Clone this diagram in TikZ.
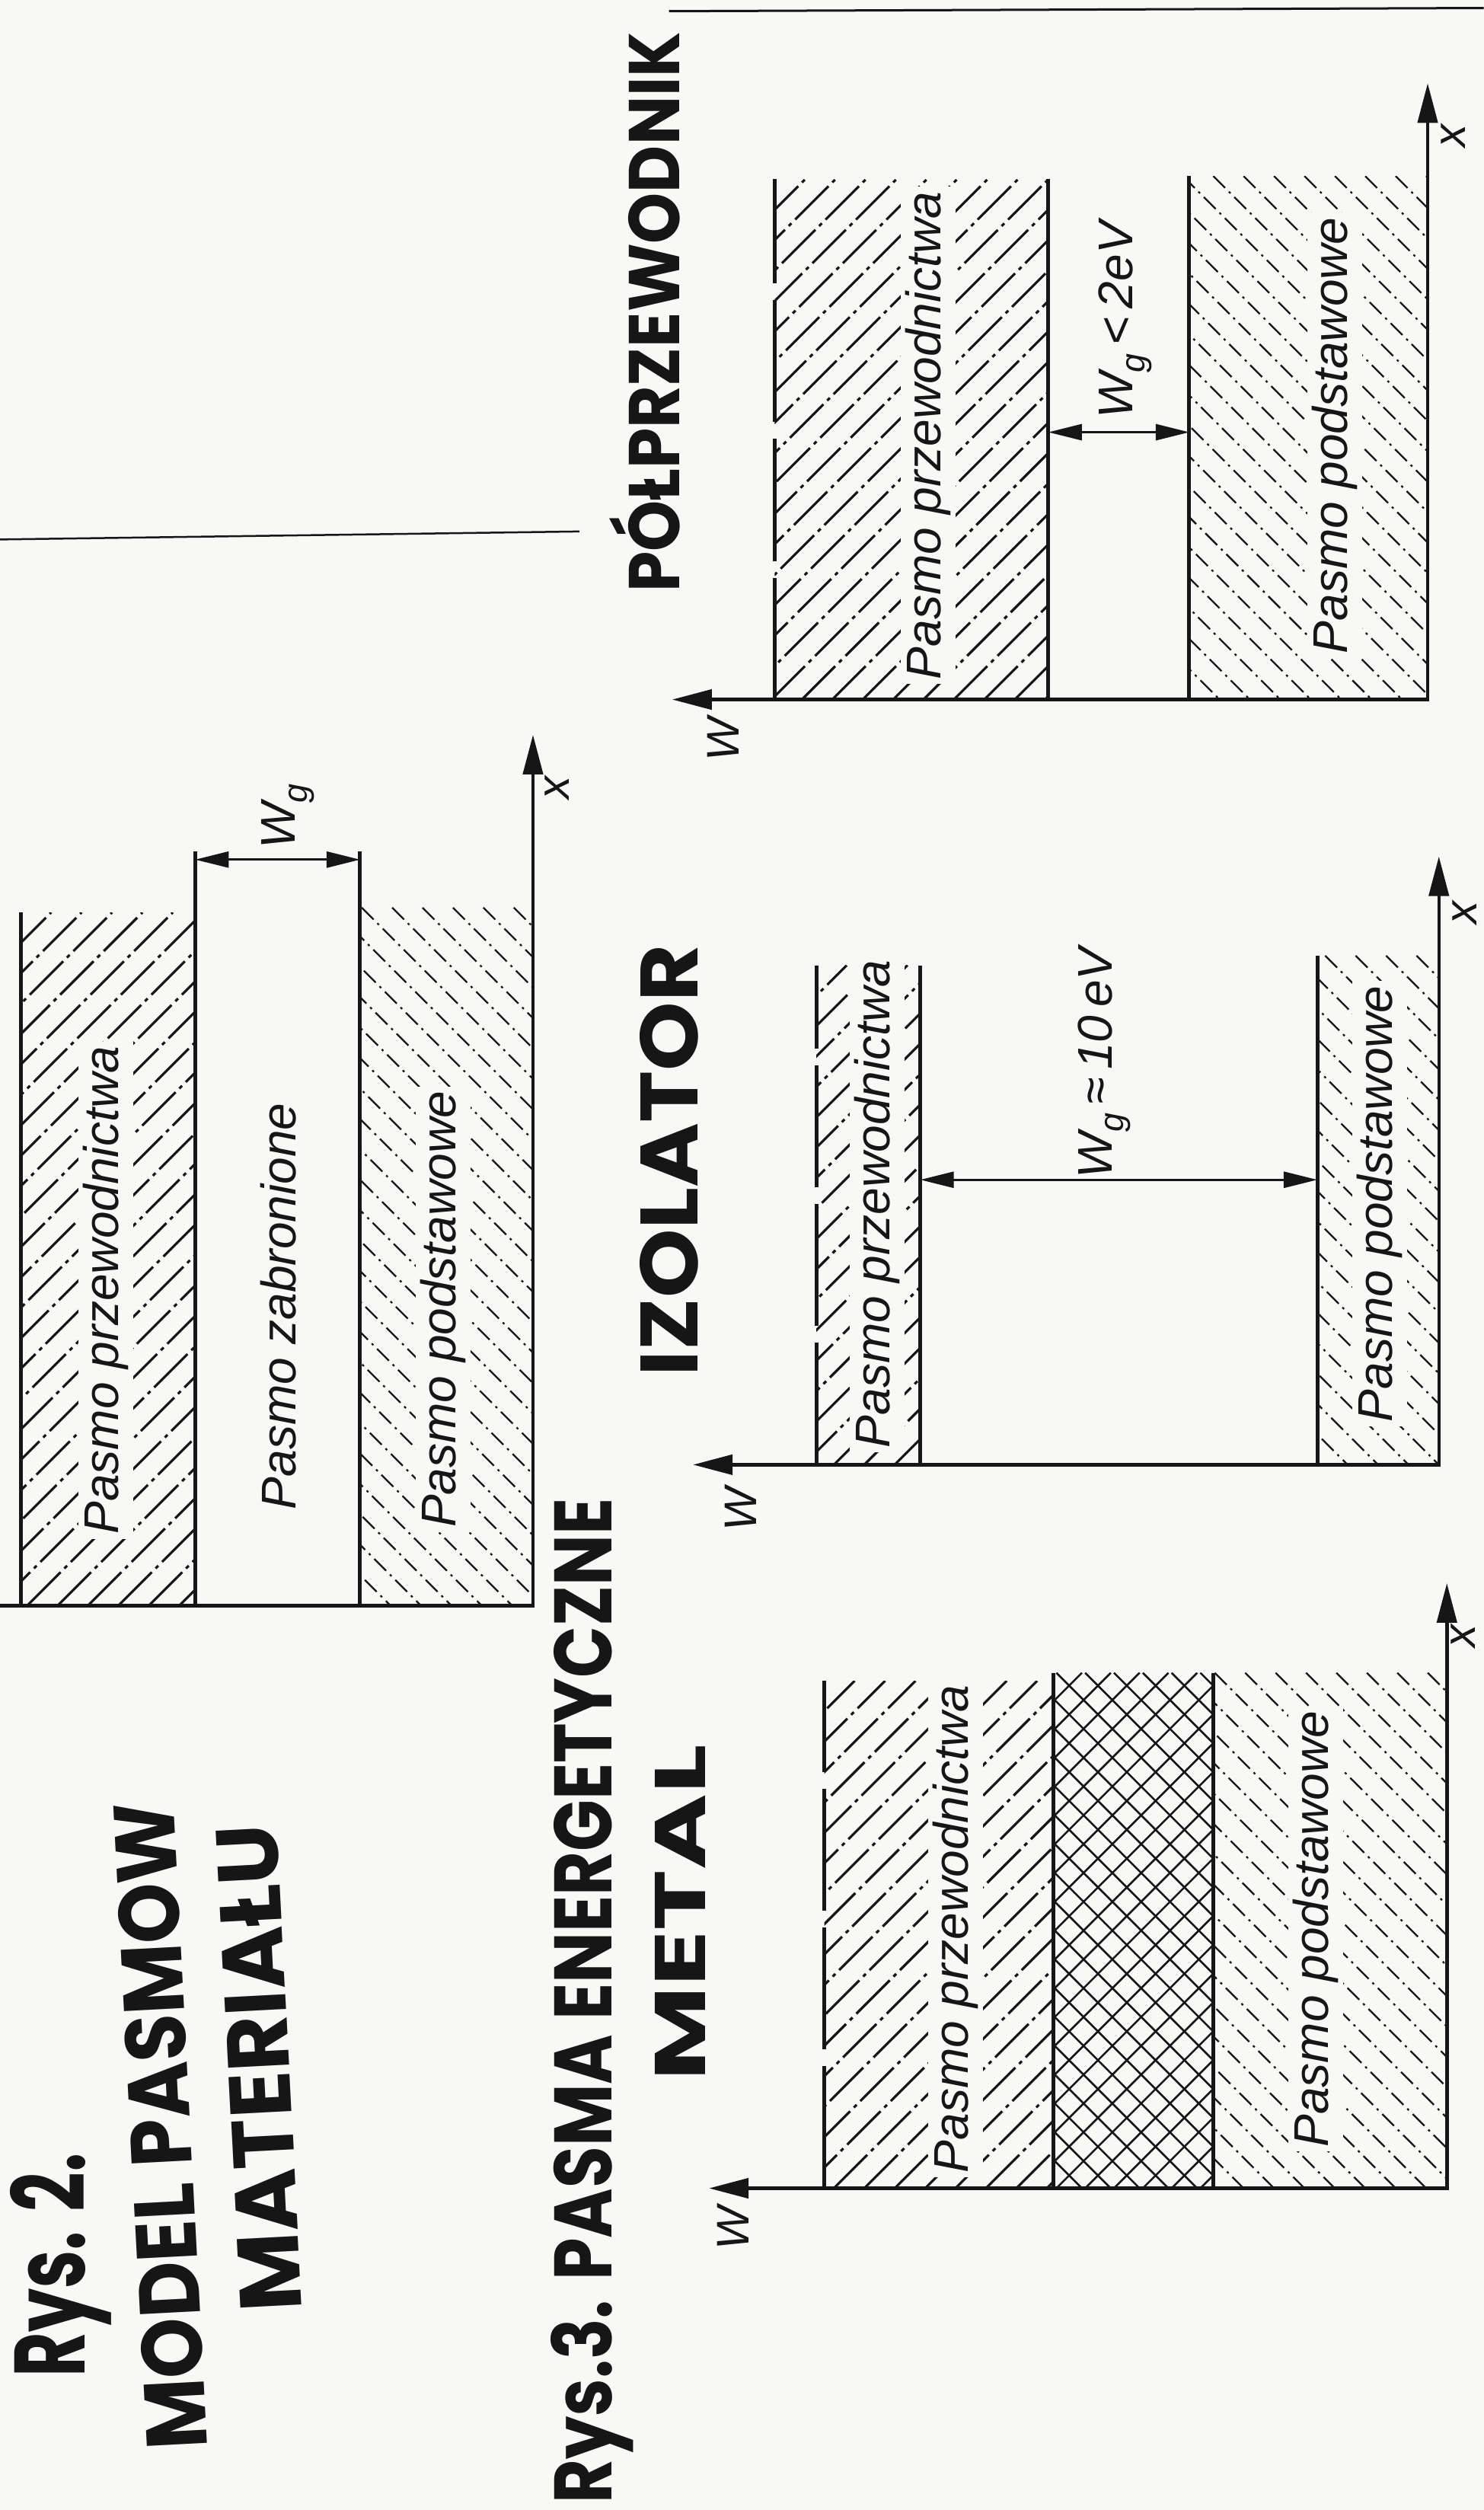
\documentclass[tikz,border=0pt]{standalone}
\usepackage{fontspec}
\usepackage{graphicx}
\usetikzlibrary{arrows.meta}
\newfontfamily\techfont{Liberation Sans}
\newfontfamily\handfont{Poppins}
\definecolor{paper}{RGB}{248,248,246}
\definecolor{ink}{RGB}{22,22,22}

% "/" hatching: lines x+y=c inside rectangle (#1,#2)-(#3,#4), style #5, step #6
\newcommand\hatchfwd[6]{%
  \begin{scope}
    \clip (#1,#2) rectangle (#3,#4);
    \pgfmathtruncatemacro\hn{((#3+#4)-(#1+#2))/#6+1}
    \foreach \i in {0,...,\hn}{%
      \pgfmathsetmacro\cc{#1+#2+\i*#6}
      \draw[#5] (\cc-#4,#4) -- (\cc-#2,#2);
    }
  \end{scope}}
% "\" hatching: lines x-y=c
\newcommand\hatchbwd[6]{%
  \begin{scope}
    \clip (#1,#2) rectangle (#3,#4);
    \pgfmathtruncatemacro\hn{((#3-#2)-(#1-#4))/#6+1}
    \foreach \i in {0,...,\hn}{%
      \pgfmathsetmacro\cc{#1-#4+\i*#6}
      \draw[#5] (\cc+#2,#2) -- (\cc+#4,#4);
    }
  \end{scope}}
\newcommand\handtext[3]{\resizebox{#1}{#2}{\handfont\bfseries #3}}

\begin{document}
\begin{tikzpicture}[x=2.1013pt,y=-2.1013pt,
  edge/.style={line width=5pt, draw=ink},
  openedge/.style={line width=5pt, draw=ink, dash pattern=on 160pt off 22pt},
  axes/.style={line width=4.5pt, draw=ink, line join=miter, {Triangle[length=52pt,width=26pt]}-{Triangle[length=52pt,width=26pt]}},
  halfaxes/.style={line width=4.5pt, draw=ink, line join=miter, -{Triangle[length=52pt,width=26pt]}},
  dim/.style={line width=3pt, draw=ink, {Triangle[length=44pt,width=21pt]}-{Triangle[length=44pt,width=21pt]}},
  hatchc/.style={line width=3.2pt, draw=ink, dash pattern=on 62pt off 7pt on 5pt off 7pt},
  hatchv/.style={line width=2.3pt, draw=ink, dash pattern=on 22pt off 7pt on 3pt off 7pt},
  crossh/.style={line width=2.6pt, draw=ink},
  lbl/.style={font=\techfont\itshape\fontsize{64}{70}\selectfont, rotate=90, fill=paper, inner sep=6pt, text=ink},
  glbl/.style={font=\techfont\itshape\fontsize{64}{70}\selectfont, rotate=90, inner sep=2pt, text=ink},
  axlbl/.style={font=\techfont\itshape\fontsize{60}{66}\selectfont, rotate=90, inner sep=0pt, text=ink},
  hand/.style={inner sep=0pt, text=ink},
  scanline/.style={line width=2.5pt, draw=ink}
]
\fill[paper] (0,0) rectangle (927,1568);
\useasboundingbox (0,0) rectangle (927,1568);

% scan / page lines
\coordinate (s1a) at (0,337); \coordinate (s1b) at (362,332);
\coordinate (s2a) at (418,7);  \coordinate (s2b) at (927,5);
\draw[scanline] (s1a) -- (s1b);
\draw[scanline, line width=3pt] (s2a) -- (s2b);

% ================= Diagram A (Rys. 2) =================
\coordinate (A-o)  at (333,1003);
\coordinate (A-xt) at (333,459);
\coordinate (A-wt) at (-3,1003);
\coordinate (A-c1t) at (13,570);  \coordinate (A-c1b) at (13,1003);
\coordinate (A-c2t) at (122,532); \coordinate (A-c2b) at (122,1003);
\coordinate (A-v1t) at (225,532); \coordinate (A-v1b) at (225,1003);
\coordinate (A-dl) at (122,537);  \coordinate (A-dr) at (225,537);
\hatchfwd{13}{570}{122}{1003}{hatchc}{19}
\hatchbwd{225}{567}{333}{1003}{hatchv}{19}
\draw[edge] (A-c1t) -- (A-c1b);
\draw[edge] (A-c2t) -- (A-c2b);
\draw[edge] (A-v1t) -- (A-v1b);
\draw[halfaxes] (A-wt) -- (A-o) -- (A-xt);
\draw[dim] (A-dl) -- (A-dr);
\node[lbl] (A-lc) at (66,806) {Pasmo przewodnictwa};
\node[lbl] (A-lg) at (174,816) {Pasmo zabronione};
\node[lbl] (A-lv) at (277,818) {Pasmo podstawowe};
\node[glbl] (A-lwg) at (180,510) {W\textsubscript{g}};
\node[axlbl] (A-lx) at (348,492) {x};

% ================= Diagram B (metal) =================
\coordinate (B-o)  at (904,1367);
\coordinate (B-xt) at (904,989);
\coordinate (B-wt) at (443,1367);
\coordinate (B-c1t) at (515,1050); \coordinate (B-c1b) at (515,1367);
\coordinate (B-c2t) at (658,1045); \coordinate (B-c2b) at (658,1367);
\coordinate (B-v1t) at (758,1045); \coordinate (B-v1b) at (758,1367);
\hatchfwd{515}{1050}{658}{1367}{hatchc}{19}
\hatchfwd{658}{1045}{758}{1367}{crossh}{18}
\hatchbwd{658}{1045}{758}{1367}{crossh}{18}
\hatchbwd{758}{1045}{904}{1367}{hatchv}{19}
\draw[openedge] (B-c1b) -- (B-c1t);
\draw[edge] (B-c2t) -- (B-c2b);
\draw[edge] (B-v1t) -- (B-v1b);
\draw[axes] (B-wt) -- (B-o) -- (B-xt);
\node[lbl] (B-lc) at (597,1205) {Pasmo przewodnictwa};
\node[lbl] (B-lv) at (822,1205) {Pasmo podstawowe};
\node[axlbl] (B-lw) at (458,1392) {W};
\node[axlbl] (B-lx) at (914,1022) {x};

% ================= Diagram C (izolator) =================
\coordinate (C-o)  at (899,915);
\coordinate (C-xt) at (899,535);
\coordinate (C-wt) at (433,915);
\coordinate (C-c1t) at (510,603); \coordinate (C-c1b) at (510,915);
\coordinate (C-c2t) at (575,603); \coordinate (C-c2b) at (575,915);
\coordinate (C-v1t) at (823,597); \coordinate (C-v1b) at (823,915);
\coordinate (C-dl) at (575,737);  \coordinate (C-dr) at (823,737);
\hatchfwd{510}{603}{575}{915}{hatchc}{19}
\hatchbwd{823}{597}{899}{915}{hatchv}{19}
\draw[openedge] (C-c1b) -- (C-c1t);
\draw[edge] (C-c2t) -- (C-c2b);
\draw[edge] (C-v1t) -- (C-v1b);
\draw[axes] (C-wt) -- (C-o) -- (C-xt);
\draw[dim] (C-dl) -- (C-dr);
\node[lbl] (C-lc) at (548,752) {Pasmo przewodnictwa};
\node[lbl] (C-lv) at (862,752) {Pasmo podstawowe};
\node[glbl] (C-lwg) at (690,664) {W\textsubscript{g}\,≈\,10\,eV};
\node[axlbl] (C-lw) at (463,943) {W};
\node[axlbl] (C-lx) at (915,570) {x};

% ================= Diagram D (półprzewodnik) =================
\coordinate (D-o)  at (892,437);
\coordinate (D-xt) at (892,52);
\coordinate (D-wt) at (420,437);
\coordinate (D-c1t) at (484,112); \coordinate (D-c1b) at (484,437);
\coordinate (D-c2t) at (655,112); \coordinate (D-c2b) at (655,437);
\coordinate (D-v1t) at (743,110); \coordinate (D-v1b) at (743,437);
\coordinate (D-dl) at (655,270);  \coordinate (D-dr) at (743,270);
\hatchfwd{484}{112}{655}{437}{hatchc}{19}
\hatchbwd{743}{110}{892}{437}{hatchv}{19}
\draw[openedge] (D-c1b) -- (D-c1t);
\draw[edge] (D-c2t) -- (D-c2b);
\draw[edge] (D-v1t) -- (D-v1b);
\draw[axes] (D-wt) -- (D-o) -- (D-xt);
\draw[dim] (D-dl) -- (D-dr);
\node[lbl] (D-lc) at (580,272) {Pasmo przewodnictwa};
\node[lbl] (D-lv) at (834,272) {Pasmo podstawowe};
\node[glbl] (D-lwg) at (703,200) {W\textsubscript{g}\,<\,2eV};
\node[axlbl] (D-lw) at (452,462) {W};
\node[axlbl] (D-lx) at (908,85) {x};

% ================= handwritten captions =================
\node[hand, rotate=90] (h-rys2) at (38,1415) {\handtext{294pt}{98pt}{Rys. 2.}};
\node[hand, rotate=93] (h-model) at (100,1328) {\handtext{850pt}{80pt}{MODEL PASMOW}};
\node[hand, rotate=93] (h-mat) at (162,1292) {\handtext{640pt}{80pt}{MATERIAŁU}};
\node[hand, rotate=90] (h-rys3) at (370,1250) {\handtext{1320pt}{80pt}{Rys.3. PASMA ENERGETYCZNE}};
\node[hand, rotate=90] (h-metal) at (425,1195) {\handtext{441pt}{66pt}{METAL}};
\node[hand, rotate=90] (h-izo) at (418,725) {\handtext{567pt}{76pt}{IZOLATOR}};
\node[hand, rotate=90] (h-polp) at (403,195) {\handtext{735pt}{92pt}{PÓŁPRZEWODNIK}};
\end{tikzpicture}
\end{document}
